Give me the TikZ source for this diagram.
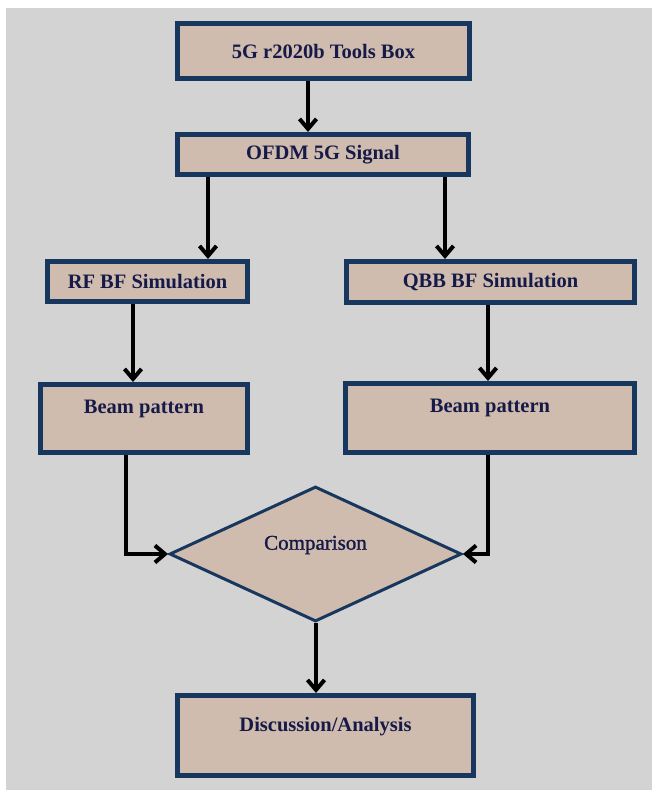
\documentclass[tikz,border=0pt]{standalone}
\usepackage{fontspec}
\setmainfont{Liberation Serif}
\newfontfamily\cmpfont[FakeBold=1.2]{Liberation Serif}
\usetikzlibrary{arrows.meta,shapes.geometric}
\definecolor{bgc}{RGB}{211,211,211}
\definecolor{boxfill}{RGB}{207,188,174}
\definecolor{boxline}{RGB}{23,55,94}
\definecolor{txtc}{RGB}{22,26,72}
\tikzset{
  flowbox/.style={draw=boxline, line width=5pt, fill=boxfill, rectangle, inner sep=0pt,
    font=\fontsize{20.5}{24}\selectfont\bfseries, text=txtc},
  hilabel/.style={font=\fontsize{20.5}{24}\selectfont\bfseries, text=txtc, inner sep=0pt},
  decide/.style={draw=boxline, line width=3pt, fill=boxfill, diamond, inner sep=0pt,
    minimum width=292pt, minimum height=135pt},
  arr/.style={draw=black, line width=4pt, -{Straight Barb[length=10pt,width=17pt,line width=4pt]}}
}
\begin{document}
\begin{tikzpicture}[x=1pt,y=-1pt]
\useasboundingbox (0,0) rectangle (652,790);
\fill[bgc] (6,8) rectangle (652,790);

\node[flowbox, minimum width=292pt, minimum height=55pt] (b1) at (323.5,51) {5G r2020b Tools Box};
\node[flowbox, minimum width=291pt, minimum height=40pt] (b2) at (323,154.5) {OFDM 5G Signal};
\node[flowbox, minimum width=200pt, minimum height=40pt] (rf) at (147.5,281.5) {RF BF Simulation};
\node[flowbox, minimum width=288pt, minimum height=41pt] (qbb) at (490.5,282) {QBB BF Simulation};
\node[flowbox, minimum width=207pt, minimum height=68pt,
  label={[hilabel, yshift=10pt]center:Beam pattern}] (bl) at (144,418.5) {};
\node[flowbox, minimum width=289pt, minimum height=69pt,
  label={[hilabel, yshift=10pt]center:Beam pattern}] (br) at (490,418) {};
\node[decide, label={[font=\fontsize{21}{24}\selectfont\cmpfont, text=txtc, inner sep=0pt, yshift=9pt]center:Comparison}] (dia) at (315.5,554) {};
\node[flowbox, minimum width=296pt, minimum height=80pt,
  label={[hilabel, yshift=9pt]center:Discussion/Analysis}] (disc) at (325.5,735.5) {};

\draw[arr] (308,0 |- b1.south) -- (308,0 |- b2.north);
\draw[arr] (208,0 |- b2.south) -- (208,0 |- rf.north);
\draw[arr] (445,0 |- b2.south) -- (445,0 |- qbb.north);
\draw[arr] (133,0 |- rf.south) -- (133,0 |- bl.north);
\draw[arr] (488,0 |- qbb.south) -- (488,0 |- br.north);
\draw[arr] (126,0 |- bl.south) |- (dia.west);
\draw[arr] (488,0 |- br.south) |- (dia.east);
\draw[arr] (316,0 |- dia.south) -- (316,0 |- disc.north);
\end{tikzpicture}
\end{document}
